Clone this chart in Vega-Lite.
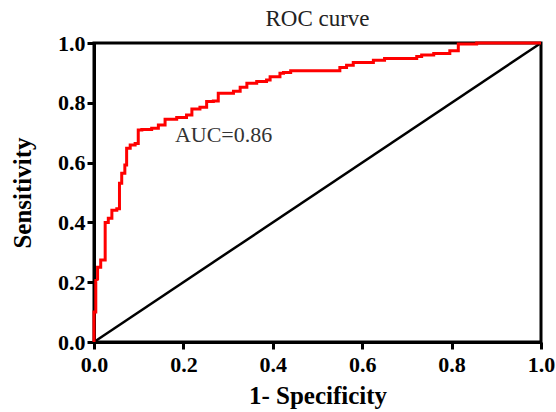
{
  "$schema": "https://vega.github.io/schema/vega-lite/v6.json",
  "width": 447,
  "height": 299,
  "autosize": "none",
  "padding": {"left": 94, "top": 43, "right": 15, "bottom": 70},
  "background": "white",
  "title": {"text": "ROC curve", "font": "Liberation Serif", "fontSize": 23, "fontWeight": "normal", "color": "#222222", "offset": 1, "anchor": "middle"},
  "config": {
    "view": {"stroke": "black", "strokeWidth": 3},
    "axis": {
      "grid": false,
      "labelFlush": false,
      "labelOverlap": false,
      "domainColor": "black", "domainWidth": 3,
      "tickColor": "black", "tickWidth": 3, "tickSize": 7,
      "labelFont": "Liberation Serif", "labelFontWeight": "bold", "labelFontSize": 22, "labelColor": "black",
      "titleFont": "Liberation Serif", "titleFontWeight": "bold", "titleFontSize": 25, "titleColor": "black"
    }
  },
  "datasets": {
    "roc": [
      {"i":0,"fpr":0,"tpr":0},{"i":1,"fpr":0,"tpr":0.10},{"i":2,"fpr":0.004,"tpr":0.10},{"i":3,"fpr":0.004,"tpr":0.207},
      {"i":4,"fpr":0.008,"tpr":0.21},{"i":5,"fpr":0.008,"tpr":0.25},{"i":6,"fpr":0.015,"tpr":0.25},{"i":7,"fpr":0.015,"tpr":0.274},
      {"i":8,"fpr":0.025,"tpr":0.274},{"i":9,"fpr":0.025,"tpr":0.40},{"i":10,"fpr":0.032,"tpr":0.40},{"i":11,"fpr":0.032,"tpr":0.414},
      {"i":12,"fpr":0.040,"tpr":0.414},{"i":13,"fpr":0.040,"tpr":0.441},{"i":14,"fpr":0.051,"tpr":0.441},{"i":15,"fpr":0.051,"tpr":0.446},
      {"i":16,"fpr":0.057,"tpr":0.446},{"i":17,"fpr":0.057,"tpr":0.531},{"i":18,"fpr":0.062,"tpr":0.531},{"i":19,"fpr":0.062,"tpr":0.564},
      {"i":20,"fpr":0.069,"tpr":0.564},{"i":21,"fpr":0.069,"tpr":0.592},{"i":22,"fpr":0.073,"tpr":0.592},{"i":23,"fpr":0.073,"tpr":0.648},
      {"i":24,"fpr":0.081,"tpr":0.648},{"i":25,"fpr":0.081,"tpr":0.659},{"i":26,"fpr":0.092,"tpr":0.659},{"i":27,"fpr":0.092,"tpr":0.664},
      {"i":28,"fpr":0.099,"tpr":0.664},{"i":29,"fpr":0.099,"tpr":0.709},{"i":30,"fpr":0.107,"tpr":0.709},{"i":31,"fpr":0.107,"tpr":0.711},
      {"i":32,"fpr":0.129,"tpr":0.711},{"i":33,"fpr":0.129,"tpr":0.715},{"i":34,"fpr":0.144,"tpr":0.715},{"i":35,"fpr":0.144,"tpr":0.726},
      {"i":36,"fpr":0.159,"tpr":0.726},{"i":37,"fpr":0.159,"tpr":0.745},{"i":38,"fpr":0.185,"tpr":0.745},{"i":39,"fpr":0.185,"tpr":0.751},
      {"i":40,"fpr":0.207,"tpr":0.751},{"i":41,"fpr":0.207,"tpr":0.759},{"i":42,"fpr":0.219,"tpr":0.759},{"i":43,"fpr":0.219,"tpr":0.779},
      {"i":44,"fpr":0.237,"tpr":0.779},{"i":45,"fpr":0.237,"tpr":0.785},{"i":46,"fpr":0.252,"tpr":0.785},{"i":47,"fpr":0.252,"tpr":0.804},
      {"i":48,"fpr":0.267,"tpr":0.804},{"i":49,"fpr":0.267,"tpr":0.806},{"i":50,"fpr":0.278,"tpr":0.806},{"i":51,"fpr":0.278,"tpr":0.832},
      {"i":52,"fpr":0.312,"tpr":0.832},{"i":53,"fpr":0.312,"tpr":0.839},{"i":54,"fpr":0.327,"tpr":0.839},{"i":55,"fpr":0.327,"tpr":0.852},
      {"i":56,"fpr":0.342,"tpr":0.852},{"i":57,"fpr":0.342,"tpr":0.865},{"i":58,"fpr":0.364,"tpr":0.865},{"i":59,"fpr":0.364,"tpr":0.871},
      {"i":60,"fpr":0.386,"tpr":0.871},{"i":61,"fpr":0.386,"tpr":0.876},{"i":62,"fpr":0.394,"tpr":0.876},{"i":63,"fpr":0.394,"tpr":0.887},
      {"i":64,"fpr":0.416,"tpr":0.887},{"i":65,"fpr":0.416,"tpr":0.899},{"i":66,"fpr":0.424,"tpr":0.899},{"i":67,"fpr":0.424,"tpr":0.901},
      {"i":68,"fpr":0.44,"tpr":0.901},{"i":69,"fpr":0.44,"tpr":0.907},{"i":70,"fpr":0.55,"tpr":0.907},{"i":71,"fpr":0.55,"tpr":0.918},
      {"i":72,"fpr":0.565,"tpr":0.918},{"i":73,"fpr":0.565,"tpr":0.926},{"i":74,"fpr":0.58,"tpr":0.926},{"i":75,"fpr":0.58,"tpr":0.935},
      {"i":76,"fpr":0.625,"tpr":0.935},{"i":77,"fpr":0.625,"tpr":0.942},{"i":78,"fpr":0.65,"tpr":0.942},{"i":79,"fpr":0.65,"tpr":0.948},
      {"i":80,"fpr":0.722,"tpr":0.948},{"i":81,"fpr":0.722,"tpr":0.955},{"i":82,"fpr":0.733,"tpr":0.955},{"i":83,"fpr":0.733,"tpr":0.96},
      {"i":84,"fpr":0.76,"tpr":0.96},{"i":85,"fpr":0.76,"tpr":0.965},{"i":86,"fpr":0.796,"tpr":0.965},{"i":87,"fpr":0.796,"tpr":0.974},
      {"i":88,"fpr":0.815,"tpr":0.974},{"i":89,"fpr":0.815,"tpr":0.997},{"i":90,"fpr":0.856,"tpr":0.997},{"i":91,"fpr":0.856,"tpr":1.0},
      {"i":92,"fpr":1.0,"tpr":1.0}
    ],
    "diag": [{"i":0,"fpr":0,"tpr":0},{"i":1,"fpr":1,"tpr":1}],
    "label": [{"fpr":0.181,"tpr":0.692,"text":"AUC=0.86"}]
  },
  "layer": [
    {
      "data": {"name": "diag"},
      "mark": {"type": "line", "color": "black", "strokeWidth": 2.5, "clip": false},
      "encoding": {
        "x": {"field": "fpr", "type": "quantitative", "scale": {"domain": [0, 1], "nice": false}, "axis": {"title": "1- Specificity", "values": [0, 0.2, 0.4, 0.6, 0.8, 1.0], "format": ".1f", "labelPadding": 5, "titlePadding": 8}},
        "y": {"field": "tpr", "type": "quantitative", "scale": {"domain": [0, 1], "nice": false}, "axis": {"title": "Sensitivity", "values": [0, 0.2, 0.4, 0.6, 0.8, 1.0], "format": ".1f", "labelPadding": 2, "titlePadding": 22}},
        "order": {"field": "i", "type": "quantitative"}
      }
    },
    {
      "data": {"name": "roc"},
      "mark": {"type": "line", "color": "#ff0000", "strokeWidth": 3, "clip": false},
      "encoding": {
        "x": {"field": "fpr", "type": "quantitative"},
        "y": {"field": "tpr", "type": "quantitative"},
        "order": {"field": "i", "type": "quantitative"}
      }
    },
    {
      "data": {"name": "label"},
      "mark": {"type": "text", "font": "Liberation Serif", "fontSize": 22, "align": "left", "baseline": "middle", "color": "#333333"},
      "encoding": {
        "x": {"field": "fpr", "type": "quantitative"},
        "y": {"field": "tpr", "type": "quantitative"},
        "text": {"field": "text"}
      }
    }
  ]
}
